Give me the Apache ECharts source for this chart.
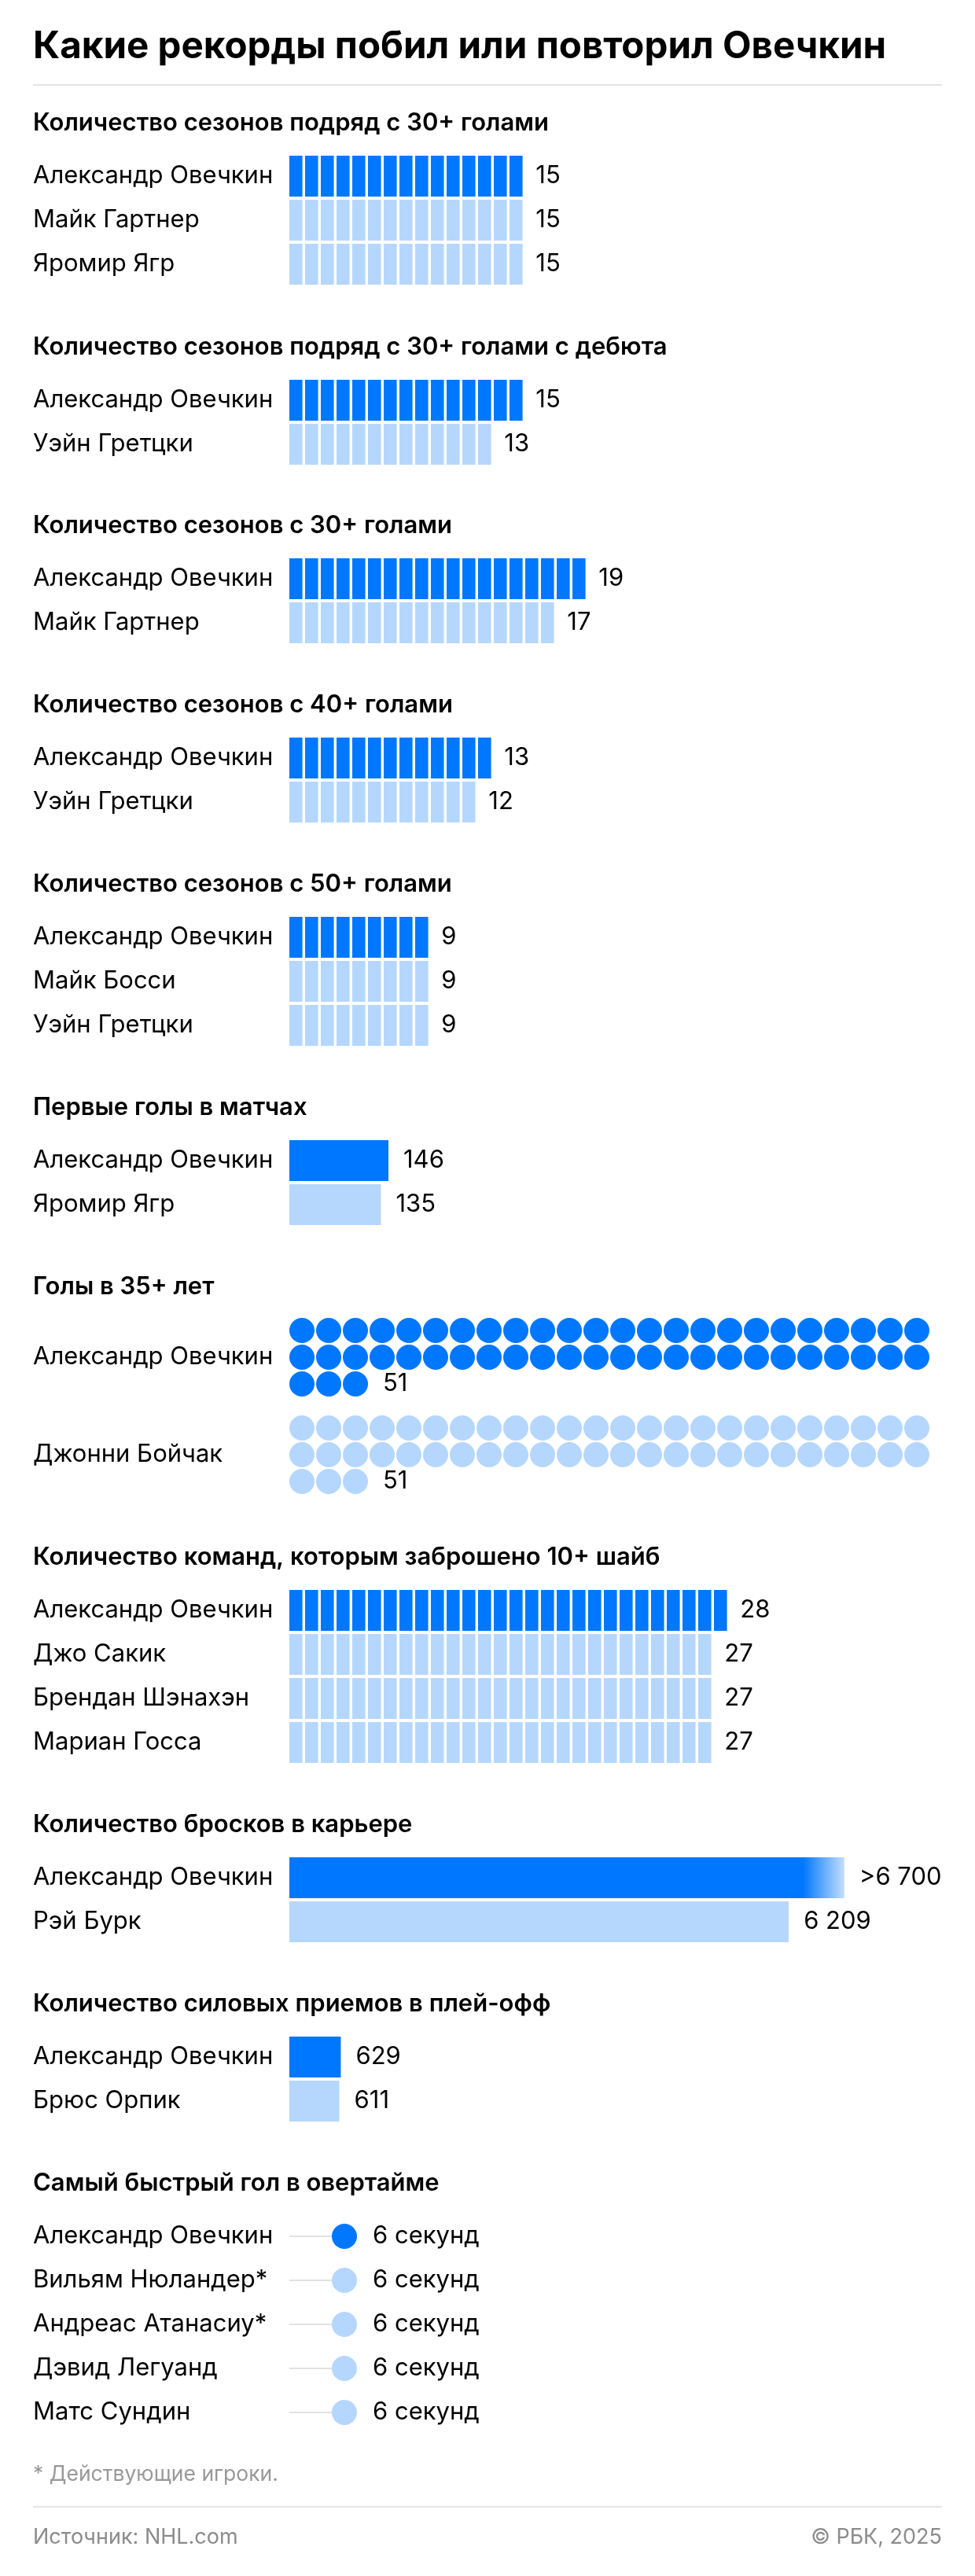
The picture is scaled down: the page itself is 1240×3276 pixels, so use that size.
<!DOCTYPE html>
<html><head><meta charset="utf-8">
<script src="https://cdn.jsdelivr.net/npm/echarts@6/dist/echarts.min.js"></script>
<style>html,body{margin:0;padding:0;background:#fff}#c{width:1240px;height:3276px}</style>
</head><body><div id="c"></div>
<script>
// ---------- DATA ----------
const titleText = 'Какие рекорды побил или повторил Овечкин';
const headers = [
  'Количество сезонов подряд с 30+ голами',
  'Количество сезонов подряд с 30+ голами с дебюта',
  'Количество сезонов с 30+ голами',
  'Количество сезонов с 40+ голами',
  'Количество сезонов с 50+ голами',
  'Первые голы в матчах',
  'Голы в 35+ лет',
  'Количество команд, которым заброшено 10+ шайб',
  'Количество бросков в карьере',
  'Количество силовых приемов в плей-офф',
  'Самый быстрый гол в овертайме'
];
const s1Names = ['Александр Овечкин', 'Майк Гартнер', 'Яромир Ягр'];
const s1Values = [15, 15, 15];
const s2Names = ['Александр Овечкин', 'Уэйн Гретцки'];
const s2Values = [15, 13];
const s3Names = ['Александр Овечкин', 'Майк Гартнер'];
const s3Values = [19, 17];
const s4Names = ['Александр Овечкин', 'Уэйн Гретцки'];
const s4Values = [13, 12];
const s5Names = ['Александр Овечкин', 'Майк Босси', 'Уэйн Гретцки'];
const s5Values = [9, 9, 9];
const s6Names = ['Александр Овечкин', 'Яромир Ягр'];
const s6Values = [146, 135];
const s7Names = ['Александр Овечкин', 'Джонни Бойчак'];
const s7Values = [51, 51];
const s8Names = ['Александр Овечкин', 'Джо Сакик', 'Брендан Шэнахэн', 'Мариан Госса'];
const s8Values = [28, 27, 27, 27];
const s9Names = ['Александр Овечкин', 'Рэй Бурк'];
const s9Values = [6900, 6209];
const s9Labels = ['>6 700', '6 209'];
const s10Names = ['Александр Овечкин', 'Брюс Орпик'];
const s10Values = [629, 611];
const s11Names = ['Александр Овечкин', 'Вильям Нюландер*', 'Андреас Атанасиу*', 'Дэвид Легуанд', 'Матс Сундин'];
const s11Values = [6, 6, 6, 6, 6];
const s11Labels = ['6 секунд', '6 секунд', '6 секунд', '6 секунд', '6 секунд'];
const footnoteText = '* Действующие игроки.';
const sourceText = 'Источник: NHL.com';
const copyrightText = '© РБК, 2025';

// ---------- STYLE / LAYOUT ----------
const DARK = '#0077ff', LIGHT = '#b5d7fe', FONT = 'Inter';
const LEFT_TEXT = 42, RIGHT_EDGE = 1198;
const headerY = [157, 442, 669, 897, 1125, 1409, 1637, 1981, 2321, 2549, 2777];
const ROW = 56, BAR = 52, FS = 31;
const col = i => (i === 0 ? DARK : LIGHT);

const grids = [], xAxes = [], yAxes = [], series = [], graphics = [];
function addGrid(top, nRows, band, left, width, max, cats, fmt) {
  const i = grids.length;
  grids.push({ left: left, top: top, width: width, height: nRows * band, containLabel: false });
  xAxes.push({ type: 'value', gridIndex: i, min: 0, max: max, show: false });
  yAxes.push({
    type: 'category', gridIndex: i, inverse: true, data: cats,
    axisLine: { show: false }, axisTick: { show: false }, splitLine: { show: false },
    axisLabel: {
      show: true, interval: 0, fontSize: FS, color: '#000', fontFamily: FONT,
      align: 'left', margin: left - LEFT_TEXT, formatter: fmt
    }
  });
  return i;
}
const valLabel = (dist, fmt) => ({
  show: true, position: 'right', distance: dist, fontSize: FS, color: '#000',
  fontFamily: FONT, formatter: fmt
});

// pictorial rect sections (1 unit = 20px)
function rectSection(k, names, values) {
  const left = 366.3;
  const g = addGrid(headerY[k] + 39, names.length, ROW, left, 800, 40, names);
  series.push({
    type: 'pictorialBar', xAxisIndex: g, yAxisIndex: g,
    symbol: 'rect', symbolSize: [16.6, BAR], symbolMargin: '1!', symbolPosition: 'start',
    data: values.map((v, i) => ({ value: v, symbolRepeat: v, symbolBoundingData: v, itemStyle: { color: col(i) } })),
    label: valLabel(15, p => String(p.value)),
    silent: true, animation: false
  });
}
// plain bar sections
function barSection(k, names, values, max, width, labels, colors) {
  const g = addGrid(headerY[k] + 39, names.length, ROW, 368, width, max, names);
  series.push({
    type: 'bar', xAxisIndex: g, yAxisIndex: g, barWidth: BAR,
    data: values.map((v, i) => ({ value: v, itemStyle: { color: colors ? colors[i] : col(i) } })),
    label: valLabel(19, p => labels ? labels[p.dataIndex] : String(p.value)),
    silent: true, animation: false
  });
}

rectSection(0, s1Names, s1Values);
rectSection(1, s2Names, s2Values);
rectSection(2, s3Names, s3Values);
rectSection(3, s4Names, s4Values);
rectSection(4, s5Names, s5Values);
barSection(5, s6Names, s6Values, 200, 172.6);

// circles section: 24 per row, 34px per unit
const PER_ROW = 24;
s7Names.forEach((name, pi) => {
  const total = s7Values[pi];
  const rows = [];
  for (let r = total; r > 0; r -= PER_ROW) rows.push(Math.min(PER_ROW, r));
  const cats = rows.map((_, ri) => 'r' + ri);
  const top = headerY[6] + 38 + pi * 124;
  const g = addGrid(top, rows.length, 34, 367, 34 * 25, 25, cats, (v, idx) => (idx === 1 ? name : ''));
  series.push({
    type: 'pictorialBar', xAxisIndex: g, yAxisIndex: g,
    symbol: 'circle', symbolSize: [32, 32], symbolMargin: '1!', symbolPosition: 'start',
    data: rows.map((v, ri) => ({
      value: v, symbolRepeat: v, symbolBoundingData: v, itemStyle: { color: col(pi) },
      label: { show: ri === rows.length - 1 }
    })),
    label: valLabel(18, () => String(total)),
    silent: true, animation: false
  });
});

rectSection(7, s8Names, s8Values);
barSection(8, s9Names, s9Values, 8000, 818.4, s9Labels, [
  new echarts.graphic.LinearGradient(0, 0, 1, 0, [
    { offset: 0, color: DARK }, { offset: 0.925, color: DARK }, { offset: 1, color: '#c4deff' }
  ]), LIGHT]);
barSection(9, s10Names, s10Values, 1000, 104);

// lollipop section
(function () {
  const g = addGrid(headerY[10] + 39, s11Names.length, ROW, 368, 700, 60, s11Names);
  series.push({
    type: 'bar', xAxisIndex: g, yAxisIndex: g, barWidth: 2,
    itemStyle: { color: '#e2e2e2' }, data: s11Values, silent: true, animation: false, z: 1
  });
  series.push({
    type: 'scatter', xAxisIndex: g, yAxisIndex: g, symbol: 'circle', symbolSize: 32,
    data: s11Values.map((v, i) => ({ value: [v, i], itemStyle: { color: col(i), opacity: 1 } })),
    label: valLabel(20, p => s11Labels[p.dataIndex]),
    silent: true, animation: false, z: 3
  });
})();

// ---------- TEXT / DECOR ----------
graphics.push({ type: 'text', x: LEFT_TEXT, y: 60,
  style: { text: titleText, fontSize: 47.5, fontWeight: 'bold', fontFamily: FONT, fill: '#000', align: 'left', verticalAlign: 'middle' } });
graphics.push({ type: 'line', shape: { x1: LEFT_TEXT, y1: 108, x2: RIGHT_EDGE, y2: 108 },
  style: { stroke: '#e4e4e4', lineWidth: 2 } });
headers.forEach((h, k) => graphics.push({ type: 'text', x: LEFT_TEXT, y: headerY[k],
  style: { text: h, fontSize: 31, fontWeight: 600, fontFamily: FONT, fill: '#000', align: 'left', verticalAlign: 'middle' } }));
graphics.push({ type: 'text', x: LEFT_TEXT, y: 3147,
  style: { text: footnoteText, fontSize: 26.5, fontFamily: FONT, fill: '#999', align: 'left', verticalAlign: 'middle' } });
graphics.push({ type: 'line', shape: { x1: LEFT_TEXT, y1: 3188, x2: RIGHT_EDGE, y2: 3188 },
  style: { stroke: '#e4e4e4', lineWidth: 2 } });
graphics.push({ type: 'text', x: LEFT_TEXT, y: 3227,
  style: { text: sourceText, fontSize: 27, fontFamily: FONT, fill: '#8c8c8c', align: 'left', verticalAlign: 'middle' } });
graphics.push({ type: 'text', x: RIGHT_EDGE, y: 3227,
  style: { text: copyrightText, fontSize: 27, fontFamily: FONT, fill: '#8c8c8c', align: 'right', verticalAlign: 'middle' } });

const chart = echarts.init(document.getElementById('c'), null, { renderer: 'canvas' });
chart.setOption({
  backgroundColor: '#fff', animation: false,
  textStyle: { fontFamily: FONT },
  grid: grids, xAxis: xAxes, yAxis: yAxes, series: series, graphic: graphics
});
</script></body></html>
